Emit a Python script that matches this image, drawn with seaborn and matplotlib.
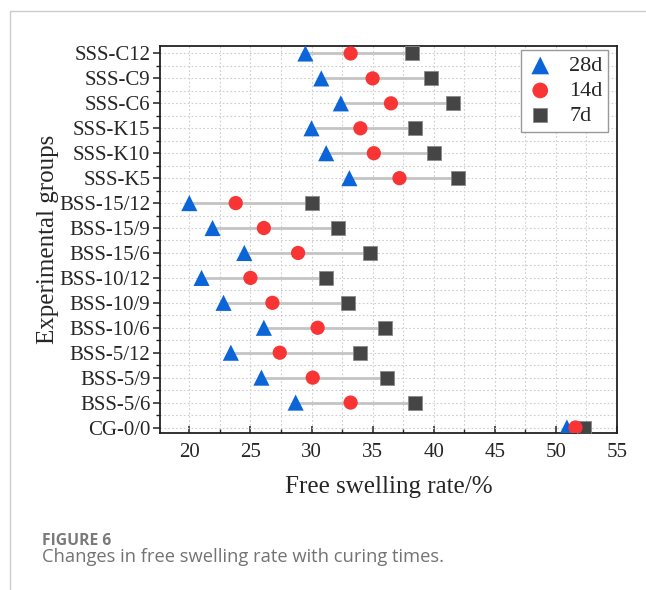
import numpy as np
import seaborn as sns
import matplotlib.pyplot as plt
from matplotlib.lines import Line2D
from matplotlib.ticker import MultipleLocator

sns.set_theme(style="ticks")
plt.rcParams['font.family'] = ['Liberation Serif', 'DejaVu Serif']

# data (top row first)
groups = ["SSS-C12", "SSS-C9", "SSS-C6", "SSS-K15", "SSS-K10", "SSS-K5",
          "BSS-15/12", "BSS-15/9", "BSS-15/6", "BSS-10/12", "BSS-10/9", "BSS-10/6",
          "BSS-5/12", "BSS-5/9", "BSS-5/6", "CG-0/0"]
rate_28d = [29.5, 30.8, 32.4, 30.0, 31.2, 33.1, 20.0, 21.9, 24.5, 21.0, 22.8, 26.1, 23.4, 25.9, 28.7, 50.9]
rate_14d = [33.2, 35.0, 36.5, 34.0, 35.1, 37.2, 23.8, 26.1, 28.9, 25.0, 26.8, 30.5, 27.4, 30.1, 33.2, 51.6]
rate_7d = [38.2, 39.8, 41.6, 38.5, 40.0, 42.0, 30.0, 32.2, 34.8, 31.2, 33.0, 36.0, 34.0, 36.2, 38.5, 52.3]

fig = plt.figure(figsize=(6.46, 5.90), dpi=100)
ax = fig.add_axes([160 / 646, 1 - 433 / 590, 457 / 646, 387 / 590])

# markers (circle drawn last, it sits on top)
sns.scatterplot(x=rate_7d, y=groups, marker="s", s=90, color="#454545",
                edgecolor="#8a8a8a", linewidth=0.6, label="7d", zorder=3, ax=ax)
sns.scatterplot(x=rate_28d, y=groups, marker="^", s=135, color="#0b65d9",
                edgecolor="none", label="28d", zorder=4, ax=ax)
sns.scatterplot(x=rate_14d, y=groups, marker="o", s=105, color="#f83434",
                edgecolor="none", label="14d", zorder=5, ax=ax)

# grey range line between curing times
lo = np.minimum.reduce([rate_28d, rate_14d, rate_7d])
hi = np.maximum.reduce([rate_28d, rate_14d, rate_7d])
ax.hlines(groups, lo, hi, color="#c4c4c4", lw=2, zorder=2)

ax.set_xlim(17.6, 55)
ax.set_ylim(15.22, -0.3)
ax.xaxis.set_major_locator(MultipleLocator(5))
ax.xaxis.set_minor_locator(MultipleLocator(2.5))
ax.yaxis.set_minor_locator(MultipleLocator(0.5))

ax.set_axisbelow(True)
ax.grid(which="both", color="#cdcdcd", linestyle=(0, (1.5, 2)), linewidth=0.8)

ax.tick_params(axis="x", which="both", direction="in", bottom=True, top=False,
               labelsize=15, pad=7, color="#222")
ax.tick_params(axis="x", which="major", length=5, width=1.1)
ax.tick_params(axis="x", which="minor", length=3, width=1.0)
ax.tick_params(axis="y", which="both", direction="out", left=True, right=False,
               labelsize=15, pad=2, color="#222")
ax.tick_params(axis="y", which="major", length=5, width=1.1)
ax.tick_params(axis="y", which="minor", length=3, width=1.0)
for sp in ax.spines.values():
    sp.set_visible(True)
    sp.set_color("#222")
    sp.set_linewidth(1.3)

ax.set_xlabel("Free swelling rate/%", fontsize=18, labelpad=10)
ax.set_ylabel("Experimental groups", fontsize=18, labelpad=0)

handles, labels = ax.get_legend_handles_labels()
order = [labels.index(k) for k in ["28d", "14d", "7d"]]
ax.legend([handles[i] for i in order], [labels[i] for i in order],
          loc="upper right", bbox_to_anchor=(0.985, 0.995), fontsize=16,
          frameon=True, fancybox=False, framealpha=1, edgecolor="#999",
          borderpad=0.25, labelspacing=0.2, handlelength=1.2, handletextpad=0.7,
          markerscale=1.1, borderaxespad=0.1)

# page frame and caption
fig.add_artist(Line2D([10 / 646, 1], [1 - 11 / 590] * 2, transform=fig.transFigure,
                      color="#cccccc", lw=1))
fig.add_artist(Line2D([10 / 646] * 2, [0, 1 - 11 / 590], transform=fig.transFigure,
                      color="#cccccc", lw=1))
fig.text(42 / 646, 1 - 545 / 590, "FIGURE 6", family="Open Sans", weight="bold",
         fontsize=11.3, color="#7a7a7a", va="baseline")
fig.text(42 / 646, 1 - 562 / 590, "Changes in free swelling rate with curing times.",
         family="Open Sans", fontsize=13.2, color="#737373", va="baseline")

fig.savefig("out.png", dpi=100, facecolor="white")
